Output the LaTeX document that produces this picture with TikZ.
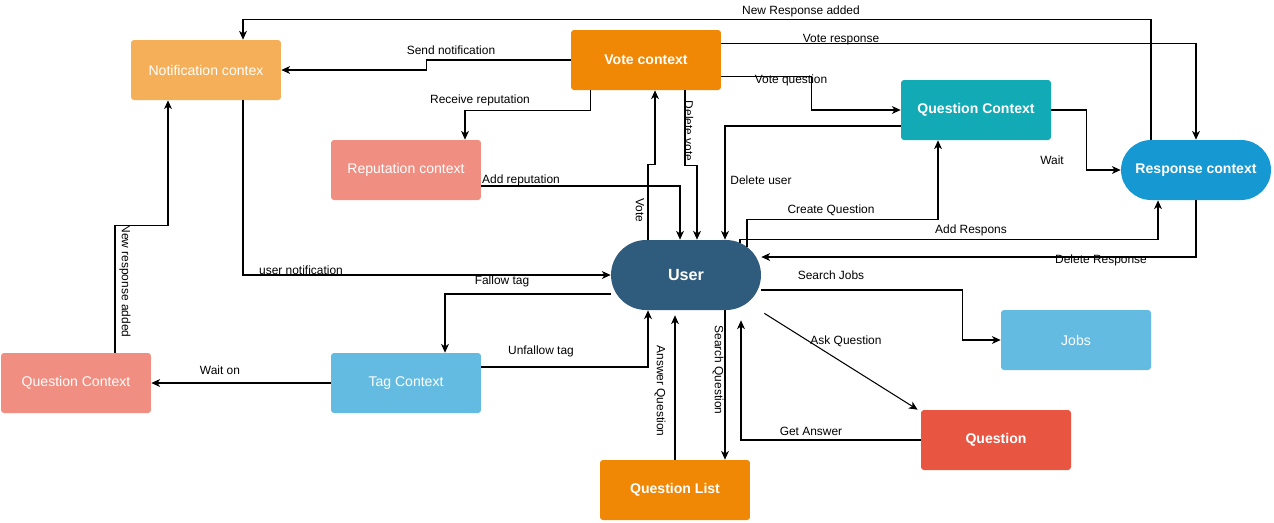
\documentclass[tikz,border=0pt]{standalone}
\usepackage{fontspec}
\setmainfont{Liberation Sans}
\usetikzlibrary{arrows.meta,calc}
\definecolor{notifOrange}{HTML}{F5AF58}
\definecolor{voteOrange}{HTML}{F08705}
\definecolor{salmon}{HTML}{F08E81}
\definecolor{tealCtx}{HTML}{12AAB5}
\definecolor{respBlue}{HTML}{1699D3}
\definecolor{userBlue}{HTML}{2F5B7C}
\definecolor{skyBlue}{HTML}{64BBE2}
\definecolor{askRed}{HTML}{E85642}
\begin{document}
\begin{tikzpicture}[x=0.02cm,y=-0.02cm,
    ctx/.style={rectangle, rounded corners=0.06cm, inner sep=0pt, minimum width=3cm, minimum height=1.2cm, text=white, font=\fontsize{8}{10}\selectfont},
    boldctx/.style={ctx, font=\fontsize{8}{10}\selectfont\bfseries},
    pill/.style={boldctx, rounded corners=0.6cm},
    lbl/.style={inner sep=0pt, font=\fontsize{6.8}{8}\selectfont},
    vlbl/.style={lbl, rotate=-90},
    flow/.style={-{Stealth[length=5pt,width=4.5pt,inset=1.5pt]}, line width=0.6pt}]

\useasboundingbox (0,0) rectangle (1274,522);

\node [ctx, fill=notifOrange] (notif) at (206,70) {Notification contex};
\node [boldctx, fill=voteOrange] (vote) at (646,60) {Vote context};
\node [ctx, fill=salmon] (rep) at (406,170) {Reputation context};
\node [boldctx, fill=tealCtx] (qctx) at (976,110) {Question Context};
\node [pill, fill=respBlue] (resp) at (1196,170) {Response context};
\node [pill, fill=userBlue, minimum height=1.4cm, rounded corners=0.7cm, font=\fontsize{9.2}{11}\selectfont\bfseries] (user) at (686,275) {User};
\node [ctx, fill=skyBlue] (jobs) at (1076,340) {Jobs};
\node [boldctx, fill=askRed] (quest) at (996,440) {Question};
\node [boldctx, fill=voteOrange] (qlist) at (675,490) {Question List};
\node [ctx, fill=skyBlue] (tag) at (406,383) {Tag Context};
\node [ctx, fill=salmon] (qctxb) at (76,383) {Question Context};

\draw[flow] ($(resp.north)+(-45,0)$) -- ++(0,-120) -| ($(notif.north)+(37,0)$);
\draw[flow] ($(vote.north east)+(0,14)$) -| (resp.north);
\draw[flow] ($(vote.south east)+(0,-14)$) -- ++(90,0) |- (qctx.west);
\draw[flow] (vote.west) -- ++(-144,0) |- (notif.east);
\draw[flow] ($(vote.south west)+(20,0)$) -- ++(0,20) -| ($(rep.north)+(59,0)$);
\draw[flow] ($(rep.east)+(0,16)$) -| ($(user.north)+(-6,0)$);
\draw[flow] ($(user.north)+(-38,0)$) -- ++(0,-75) -| ($(vote.south)+(9,0)$);
\draw[flow] ($(vote.south)+(39,0)$) -- ++(0,75) -| ($(user.north)+(11,0)$);
\draw[flow] ($(qctx.west)+(0,16)$) -| ($(user.north)+(39,0)$);
\draw[flow] ($(user.north)+(61,7)$) -- ++(0,-27) -| ($(qctx.south)+(-38,0)$);
\draw[flow] ($(user.north)+(54,3)$) -- ++(0,-3) -| ($(resp.south)+(-38,0)$);
\draw[flow] (resp.south) |- ($(user.east)+(0,-18)$);
\draw[flow] (qctx.east) -- ++(35,0) |- (resp.west);
\draw[flow] ($(notif.south)+(37,0)$) |- (user.west);
\draw[flow] ($(user.west)+(0,19)$) -| ($(tag.north)+(39,0)$);
\draw[flow] ($(tag.east)+(0,-16)$) -| ($(user.south)+(-38,0)$);
\draw[flow] (tag.west) -- (qctxb.east);
\draw[flow] ($(qctxb.north)+(39,0)$) -- ++(0,-127) -| ($(notif.south)+(-38,0)$);
\draw[flow] (qlist.north) -- ($(qlist.north |- user.south)+(0,5)$);
\draw[flow] ($(user.south)+(39,0)$) -- ($(qlist.north)+(50,0)$);
\draw[flow] ($(user.east)+(0,15)$) -- ++(201,0) |- (jobs.west);
\draw[flow] ($(user.south east)+(3,3)$) -- ($(quest.north west)+(-3,0)$);
\draw[flow] (quest.west) -| ($(user.south)+(55,10)$);

\node [lbl] (newresp) at (801,11) {New Response added};
\node [lbl] (voteresp) at (841,40) {Vote response};
\node [lbl] (voteq) at (791,80) {Vote question};
\node [lbl] (sendn) at (451,50) {Send notification};
\node [lbl] (recrep) at (480,100) {Receive reputation};
\node [lbl] (addrep) at (521,180) {Add reputation};
\node [vlbl] (votel) at (640,210) {Vote};
\node [vlbl] (delvote) at (689,131) {Delete vote};
\node [lbl] (deluser) at (761,180) {Delete user};
\node [lbl] (createq) at (831,210) {Create Question};
\node [lbl] (addresp) at (971,230) {Add Respons};
\node [lbl] (delresp) at (1101,260) {Delete Response};
\node [lbl] (waitl) at (1052,160) {Wait};
\node [lbl] (usern) at (301,270) {user notification};
\node [lbl] (fallow) at (502,281) {Fallow tag};
\node [lbl] (unfallow) at (541,351) {Unfallow tag};
\node [lbl] (waiton) at (220,370) {Wait on};
\node [vlbl] (newrespb) at (125,281) {New response added};
\node [vlbl] (answerq) at (660,391) {Answer Question};
\node [vlbl] (searchq) at (718,370) {Search Question};
\node [lbl] (searchj) at (831,275) {Search Jobs};
\node [lbl] (askq) at (846,341) {Ask Question};
\node [lbl] (getans) at (811,431) {Get Answer};
\end{tikzpicture}
\end{document}
